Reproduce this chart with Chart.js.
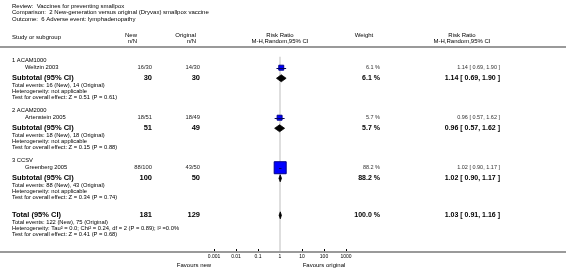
<!DOCTYPE html>
<html>
<head>
<meta charset="utf-8">
<script src="https://cdn.jsdelivr.net/npm/chart.js@4.4.1/dist/chart.umd.min.js"></script>
<style>
  html, body { margin: 0; padding: 0; background: #fff; }
  #forest { display: block; }
</style>
</head>
<body>
<canvas id="forest" width="566" height="276"></canvas>
<script>
// ---- data ----
const titleLines = [
  'Review:  Vaccines for preventing smallpox',
  'Comparison:  2 New-generation versus original (Dryvax) smallpox vaccine',
  'Outcome:  6 Adverse event: lymphadenopathy'
];
const groupNames = ['1 ACAM1000', '2 ACAM2000', '3 CCSV'];
const studyNames = ['Weltzin 2003', 'Artenstein 2005', 'Greenberg 2005'];
const newEvents = [16, 18, 88];
const newTotals = [30, 51, 100];
const origEvents = [14, 18, 43];
const origTotals = [30, 49, 50];
const riskRatio = [1.14, 0.96, 1.02];
const ciLow = [0.69, 0.57, 0.90];
const ciHigh = [1.90, 1.62, 1.17];
const weights = [6.1, 5.7, 88.2];
const subZ = ['0.51', '0.15', '0.34'];
const subP = ['0.61', '0.88', '0.74'];

const totalRR = 1.03, totalLow = 0.91, totalHigh = 1.16;
const totalNew = 181, totalOrig = 129;
const totalNewEvents = 122, totalOrigEvents = 75;
const totalHet = 'Heterogeneity: Tau\u00b2 = 0.0; Chi\u00b2 = 0.24, df = 2 (P = 0.89); I\u00b2 =0.0%';
const totalTest = 'Test for overall effect: Z = 0.41 (P = 0.68)';

const tickValues = [0.001, 0.01, 0.1, 1, 10, 100, 1000];
const tickLabels = ['0.001', '0.01', '0.1', '1', '10', '100', '1000'];

// ---- row layout (vertical positions, in y-scale units) ----
const groupTop = i => 53 + i * 52;
const studyRow = i => groupTop(i) + 7.5;
const subRow = i => groupTop(i) + 18.5;
const totalRow = 214;

const FONT = '"Liberation Sans", Arial, sans-serif';
const fmt = v => v.toFixed(2);
const ciText = (r, lo, hi) => fmt(r) + ' [ ' + fmt(lo) + ', ' + fmt(hi) + ' ]';

function squareRadius(w) {
  return Math.max(3.5, 8.5 * Math.sqrt(w / 88.2));
}

const forestPlugin = {
  id: 'forestPlugin',
  beforeDatasetsDraw(chart) {
    const { ctx, scales: { x, y } } = chart;
    const px = x.getPixelForValue(1);
    ctx.save();
    ctx.strokeStyle = '#dedede';
    ctx.lineWidth = 2;
    ctx.beginPath();
    ctx.moveTo(px, y.getPixelForValue(groupTop(0) - 4));
    ctx.lineTo(px, x.top + 3);
    ctx.stroke();
    ctx.restore();
  },
  afterDatasetsDraw(chart) {
    const { ctx, scales: { x, y } } = chart;
    ctx.save();
    // confidence interval lines of the studies
    ctx.strokeStyle = '#000060';
    ctx.lineWidth = 1;
    studyNames.forEach((s, i) => {
      const yy = Math.round(y.getPixelForValue(studyRow(i))) + 0.5;
      ctx.beginPath();
      ctx.moveTo(x.getPixelForValue(ciLow[i]), yy);
      ctx.lineTo(x.getPixelForValue(ciHigh[i]), yy);
      ctx.stroke();
    });
    // diamonds
    const diamond = (est, lo, hi, row) => {
      const yy = y.getPixelForValue(row);
      ctx.beginPath();
      ctx.moveTo(x.getPixelForValue(lo), yy);
      ctx.lineTo(x.getPixelForValue(est), yy - 3.5);
      ctx.lineTo(x.getPixelForValue(hi), yy);
      ctx.lineTo(x.getPixelForValue(est), yy + 3.5);
      ctx.closePath();
      ctx.fillStyle = '#000';
      ctx.fill();
      ctx.strokeStyle = '#000';
      ctx.lineWidth = 0.8;
      ctx.stroke();
    };
    riskRatio.forEach((r, i) => diamond(r, ciLow[i], ciHigh[i], subRow(i)));
    diamond(totalRR, totalLow, totalHigh, totalRow);
    ctx.restore();
  },
  afterDraw(chart) {
    const { ctx, scales: { x, y } } = chart;
    const W = chart.width;
    const yp = v => y.getPixelForValue(v);
    const txt = (s, px, py, size, opts = {}) => {
      ctx.font = (opts.bold ? 'bold ' : '') + size + 'px ' + FONT;
      ctx.textAlign = opts.align || 'left';
      ctx.fillStyle = opts.color || '#000';
      ctx.fillText(s, px, py);
    };
    ctx.save();
    ctx.textBaseline = 'middle';

    // title block
    titleLines.forEach((s, i) => txt(s, 12, 6 + i * 6.6, 6));

    // column headers
    txt('Study or subgroup', 12, 37, 6);
    txt('New', 137, 35, 6, { align: 'right' });
    txt('n/N', 137, 41.5, 6, { align: 'right' });
    txt('Original', 196, 35, 6, { align: 'right' });
    txt('n/N', 196, 41.5, 6, { align: 'right' });
    txt('Risk Ratio', x.getPixelForValue(1), 35, 6, { align: 'center' });
    txt('M-H,Random,95% CI', x.getPixelForValue(1), 41.5, 6, { align: 'center' });
    txt('Weight', 364, 35, 6, { align: 'center' });
    txt('Risk Ratio', 462, 35, 6, { align: 'center' });
    txt('M-H,Random,95% CI', 462, 41.5, 6, { align: 'center' });

    // separator lines
    ctx.strokeStyle = '#9a9a9a';
    ctx.lineWidth = 2;
    ctx.beginPath();
    ctx.moveTo(0, 47); ctx.lineTo(W, 47);
    const axisY = x.top + 3;
    ctx.moveTo(0, axisY); ctx.lineTo(W, axisY);
    ctx.stroke();

    // groups
    groupNames.forEach((g, i) => {
      txt(g, 12, yp(groupTop(i)), 5.8);
      txt(studyNames[i], 25, yp(studyRow(i)), 5.8);
      txt(newEvents[i] + '/' + newTotals[i], 152, yp(studyRow(i)), 5.8, { align: 'right', color: '#222' });
      txt(origEvents[i] + '/' + origTotals[i], 200, yp(studyRow(i)), 5.8, { align: 'right', color: '#222' });
      txt(weights[i].toFixed(1) + ' %', 380, yp(studyRow(i)), 5.5, { align: 'right', color: '#333' });
      txt(ciText(riskRatio[i], ciLow[i], ciHigh[i]), 500, yp(studyRow(i)), 5.5, { align: 'right', color: '#333' });

      const sr = subRow(i);
      txt('Subtotal (95% CI)', 12, yp(sr), 7.5, { bold: true });
      txt(String(newTotals[i]), 152, yp(sr), 7.5, { bold: true, align: 'right' });
      txt(String(origTotals[i]), 200, yp(sr), 7.5, { bold: true, align: 'right' });
      txt(weights[i].toFixed(1) + ' %', 380, yp(sr), 7, { bold: true, align: 'right' });
      txt(ciText(riskRatio[i], ciLow[i], ciHigh[i]), 500, yp(sr), 7, { bold: true, align: 'right' });
      txt('Total events: ' + newEvents[i] + ' (New), ' + origEvents[i] + ' (Original)', 12, yp(sr + 7.5), 5.8);
      txt('Heterogeneity: not applicable', 12, yp(sr + 13.5), 5.8);
      txt('Test for overall effect: Z = ' + subZ[i] + ' (P = ' + subP[i] + ')', 12, yp(sr + 19.5), 5.8);
    });

    // overall total
    txt('Total (95% CI)', 12, yp(totalRow), 7.5, { bold: true });
    txt(String(totalNew), 152, yp(totalRow), 7.5, { bold: true, align: 'right' });
    txt(String(totalOrig), 200, yp(totalRow), 7.5, { bold: true, align: 'right' });
    txt('100.0 %', 380, yp(totalRow), 7, { bold: true, align: 'right' });
    txt(ciText(totalRR, totalLow, totalHigh), 500, yp(totalRow), 7, { bold: true, align: 'right' });
    txt('Total events: ' + totalNewEvents + ' (New), ' + totalOrigEvents + ' (Original)', 12, yp(totalRow + 7.5), 5.8);
    txt(totalHet, 12, yp(totalRow + 13.5), 5.8);
    txt(totalTest, 12, yp(totalRow + 19.5), 5.8);

    // favours labels
    txt('Favours new', 194, 265, 6, { align: 'center' });
    txt('Favours original', 324, 265, 6, { align: 'center' });
    ctx.restore();
  }
};

new Chart(document.getElementById('forest'), {
  type: 'scatter',
  data: {
    datasets: [{
      data: studyNames.map((s, i) => ({ x: riskRatio[i], y: studyRow(i) })),
      pointStyle: 'rect',
      pointRadius: weights.map(squareRadius),
      pointHoverRadius: weights.map(squareRadius),
      backgroundColor: '#0000ff',
      borderColor: '#00008b',
      borderWidth: 1
    }]
  },
  options: {
    responsive: false,
    animation: false,
    devicePixelRatio: 1,
    layout: { padding: { left: 214, right: 220, top: 0, bottom: 7 } },
    plugins: { legend: { display: false }, tooltip: { enabled: false } },
    scales: {
      x: {
        type: 'logarithmic',
        min: 0.001,
        max: 1000,
        afterBuildTicks: scale => { scale.ticks = tickValues.map(v => ({ value: v })); },
        afterFit: scale => { scale.height = 20; },
        border: { display: false },
        grid: { display: true, drawOnChartArea: false, drawTicks: true, tickLength: 3, color: '#000', lineWidth: 1 },
        ticks: {
          autoSkip: false,
          maxRotation: 0,
          padding: 2,
          color: '#000',
          font: { family: FONT, size: 5 },
          callback: (v, i) => tickLabels[i]
        }
      },
      y: {
        display: false,
        reverse: true,
        min: 0,
        max: 249
      }
    }
  },
  plugins: [forestPlugin]
});
</script>
</body>
</html>
